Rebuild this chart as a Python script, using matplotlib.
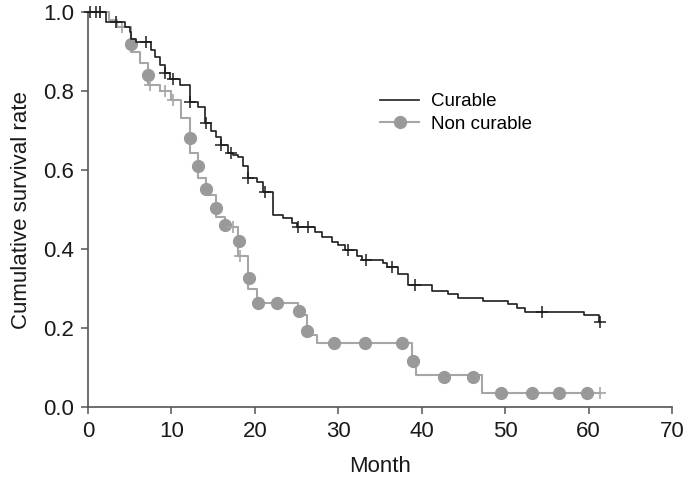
import numpy as np
import matplotlib
matplotlib.use("Agg")
import matplotlib.pyplot as plt

plt.rcParams['font.family'] = ['Liberation Sans', 'DejaVu Sans']

# Curable group: event times (months) and survival after each event
cur_time = [0, 2.2, 4.4, 5.0, 5.2, 5.8, 7.6, 8.0, 8.6, 9.2, 9.8, 11.0, 12.2, 13.2,
            14.0, 14.8, 15.4, 16.0, 16.8, 17.4, 18.0, 18.6, 19.2, 20.2, 21.0, 22.2,
            23.4, 24.4, 25.0, 27.2, 28.0, 29.2, 30.0, 30.8, 32.2, 32.8, 35.4, 35.8,
            37.2, 38.4, 41.2, 43.2, 44.4, 47.3, 50.4, 51.4, 52.4, 59.4, 61.2]
cur_surv = [1.0, 0.975, 0.963, 0.95, 0.933, 0.925, 0.905, 0.887, 0.865, 0.845, 0.83,
            0.815, 0.773, 0.76, 0.718, 0.70, 0.684, 0.663, 0.642, 0.638, 0.634, 0.61,
            0.579, 0.57, 0.545, 0.486, 0.478, 0.467, 0.455, 0.444, 0.431, 0.418, 0.41,
            0.397, 0.382, 0.372, 0.365, 0.355, 0.338, 0.31, 0.295, 0.285, 0.277, 0.269,
            0.262, 0.252, 0.241, 0.233, 0.215]
cur_censor = [0.3, 1.0, 1.4, 3.4, 7.0, 9.2, 10.2, 12.2, 14.2, 16.0, 17.2, 19.2, 21.2,
              25.2, 26.4, 31.2, 33.3, 36.4, 39.2, 54.4, 61.4]

# Non curable group
nc_time = [0, 2.5, 3.5, 5.1, 6.2, 7.2, 8.6, 10.0, 11.2, 12.2, 13.2, 14.2, 15.3, 16.4,
           18.0, 19.2, 20.2, 25.2, 26.3, 27.4, 38.8, 39.3, 47.2]
nc_surv = [1.0, 0.98, 0.962, 0.90, 0.87, 0.815, 0.80, 0.777, 0.731, 0.642, 0.579,
           0.537, 0.482, 0.456, 0.382, 0.30, 0.264, 0.232, 0.182, 0.161, 0.12, 0.08, 0.035]
nc_censor = [1.5, 4.1, 7.4, 9.2, 10.2, 17.4, 18.2, 61.4]
nc_dot_time = [5.1, 7.2, 12.2, 13.2, 14.2, 15.3, 16.4, 18.1, 19.3, 20.4, 22.6, 25.3,
               26.3, 29.5, 33.2, 37.6, 39.0, 42.7, 46.2, 49.5, 53.2, 56.5, 59.8]
nc_dot_surv = [0.92, 0.84, 0.682, 0.61, 0.553, 0.505, 0.46, 0.42, 0.326, 0.264, 0.264,
               0.244, 0.193, 0.161, 0.161, 0.161, 0.117, 0.077, 0.077, 0.035, 0.035,
               0.035, 0.035]
end_time = 61.4


def step_value(times, surv, t):
    idx = np.searchsorted(times, t, side='right') - 1
    return np.asarray(surv)[idx]


fig = plt.figure(figsize=(6.89, 4.84), dpi=100)
ax = fig.add_axes([0.1277, 0.159, 0.8476, 0.816])

black = '#1e1e1e'
grey = '#a6a6a6'
dot = '#999999'

# non curable curve
ax.step(nc_time + [end_time], nc_surv + [nc_surv[-1]], where='post',
        color=grey, lw=1.5, clip_on=False, zorder=2)
ax.plot(nc_dot_time, nc_dot_surv, 'o', color=dot, ms=8.5, mec=dot, clip_on=False, zorder=3)
ax.plot(nc_censor, step_value(nc_time, nc_surv, nc_censor), '+', color=grey,
        ms=8, mew=1.2, clip_on=False, zorder=3)

# curable curve
ax.step(cur_time + [end_time], cur_surv + [cur_surv[-1]], where='post',
        color=black, lw=1.2, clip_on=False, zorder=4)
ax.plot(cur_censor, step_value(cur_time, cur_surv, cur_censor), '+', color=black,
        ms=8, mew=1.1, clip_on=False, zorder=5)

# legend handles
h1, = ax.plot([], [], color='#333333', lw=1.3)
h2, = ax.plot([], [], color=grey, lw=1.5, marker='o', ms=8.5, mfc=dot, mec=dot)
ax.legend([h1, h2], ['Curable', 'Non curable'], loc='upper left',
          bbox_to_anchor=(0.5, 0.795), frameon=False, fontsize=13.5,
          handlelength=2.1, handletextpad=0.6, labelspacing=0.3,
          borderpad=0, borderaxespad=0)

ax.set_xlim(0, 70)
ax.set_ylim(0, 1.0)
ax.set_xticks(np.arange(0, 71, 10))
ax.set_yticks([0.0, 0.2, 0.4, 0.6, 0.8, 1.0])
ax.set_yticklabels(['0.0', '0.2', '0.4', '0.6', '0.8', '1.0'])

for s in ['top', 'right']:
    ax.spines[s].set_visible(False)
for s in ['left', 'bottom']:
    ax.spines[s].set_color('#555555')
    ax.spines[s].set_linewidth(1.2)
ax.tick_params(colors='#555555', labelcolor='#1a1a1a', labelsize=16,
               length=5, width=1.1, pad=5)

ax.set_xlabel('Month', fontsize=16, color='#1a1a1a', labelpad=10)
ax.set_ylabel('Cumulative survival rate', fontsize=16, color='#1a1a1a', labelpad=8)

fig.savefig('out.png', dpi=100)
